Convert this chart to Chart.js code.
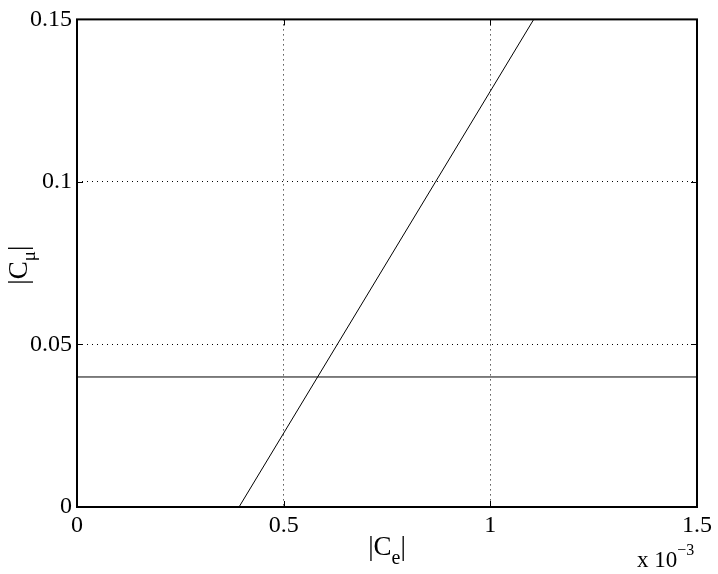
<!DOCTYPE html>
<html>
<head>
<meta charset="utf-8">
<script src="https://cdn.jsdelivr.net/npm/chart.js@4/dist/chart.umd.min.js"></script>
<style>
  html, body { margin: 0; padding: 0; background: #fff; }
</style>
</head>
<body>
<canvas id="chart" width="718" height="574"></canvas>
<script>
'use strict';

// x values are in units of 1e-3 (axis shows "x 10^-3")
const xTicks = [0, 0.5, 1, 1.5];
const yTicks = [0, 0.05, 0.1, 0.15];

// sloped line |Cmu| vs |Ce|
const slopeX = [0.392, 1.105];
const slopeY = [0, 0.15];

// horizontal limit line
const limitX = [0, 1.5];
const limitY = [0.04, 0.04];

const FONT = '"Liberation Serif", "Times New Roman", serif';

function toPoints(xs, ys) {
  return xs.map((x, i) => ({ x: x, y: ys[i] }));
}

// draw text made of pieces (for sub/superscripts), centred on x
function drawPieces(ctx, pieces, x, y, align) {
  let total = 0;
  pieces.forEach(p => {
    ctx.font = p.size + 'px ' + FONT;
    p.w = ctx.measureText(p.t).width;
    total += p.w;
  });
  let cx = align === 'left' ? x : x - total / 2;
  ctx.textAlign = 'left';
  ctx.textBaseline = 'alphabetic';
  pieces.forEach(p => {
    ctx.font = p.size + 'px ' + FONT;
    ctx.fillText(p.t, cx, y + (p.dy || 0));
    cx += p.w;
  });
}

const framePlugin = {
  id: 'frame',
  afterDraw(chart) {
    const ctx = chart.ctx;
    const a = chart.chartArea;
    const xs = chart.scales.x;
    const ys = chart.scales.y;
    const tick = 6;
    ctx.save();
    ctx.strokeStyle = '#000';
    ctx.fillStyle = '#000';

    // inward tick marks on all four sides
    ctx.lineWidth = 1;
    ctx.beginPath();
    xTicks.forEach(v => {
      const px = Math.round(xs.getPixelForValue(v)) + 0.5;
      ctx.moveTo(px, a.bottom); ctx.lineTo(px, a.bottom - tick);
      ctx.moveTo(px, a.top); ctx.lineTo(px, a.top + tick);
    });
    yTicks.forEach(v => {
      const py = Math.round(ys.getPixelForValue(v)) + 0.5;
      ctx.moveTo(a.left, py); ctx.lineTo(a.left + tick, py);
      ctx.moveTo(a.right, py); ctx.lineTo(a.right - tick, py);
    });
    ctx.stroke();

    // box
    ctx.lineWidth = 2;
    ctx.strokeRect(a.left, a.top, a.right - a.left, a.bottom - a.top);

    // x label |C_e|
    drawPieces(ctx, [
      { t: '|C', size: 27 },
      { t: 'e', size: 20, dy: 9 },
      { t: '|', size: 27 }
    ], (a.left + a.right) / 2, 555);

    // y label |C_mu| rotated
    ctx.save();
    ctx.translate(27, (a.top + a.bottom) / 2 + 2);
    ctx.rotate(-Math.PI / 2);
    drawPieces(ctx, [
      { t: '|C', size: 27 },
      { t: '\u03bc', size: 19, dy: 8 },
      { t: '|', size: 27 }
    ], 0, 0);
    ctx.restore();

    // exponent x 10^-3
    drawPieces(ctx, [
      { t: 'x 10', size: 23 },
      { t: '\u22123', size: 16, dy: -12 }
    ], 637, 567, 'left');

    ctx.restore();
  }
};

const gridColor = (ctx, edge) => {
  const v = ctx.tick && ctx.tick.value;
  return (v === edge[0] || v === edge[1]) ? 'rgba(0,0,0,0)' : '#000';
};

const config = {
  type: 'line',
  data: {
    datasets: [
      {
        data: toPoints(slopeX, slopeY),
        borderColor: '#000',
        borderWidth: 1,
        pointRadius: 0,
        fill: false
      },
      {
        data: toPoints(limitX, limitY),
        borderColor: '#000',
        borderWidth: 1,
        pointRadius: 0,
        fill: false
      }
    ]
  },
  options: {
    responsive: false,
    animation: false,
    layout: {
      padding: { top: 18, right: 21, left: 0, bottom: 0 }
    },
    plugins: {
      legend: { display: false },
      tooltip: { enabled: false }
    },
    scales: {
      x: {
        type: 'linear',
        min: 0,
        max: 1.5,
        afterBuildTicks: s => { s.ticks = xTicks.map(v => ({ value: v })); },
        afterFit: s => { s.height = 67; },
        ticks: {
          color: '#000',
          font: { family: FONT, size: 24 },
          padding: 4,
          maxRotation: 0,
          callback: v => String(v)
        },
        grid: {
          drawTicks: false,
          lineWidth: 1,
          color: c => gridColor(c, [0, 1.5])
        },
        border: { display: false, dash: [1, 4] }
      },
      y: {
        type: 'linear',
        min: 0,
        max: 0.15,
        afterBuildTicks: s => { s.ticks = yTicks.map(v => ({ value: v })); },
        afterFit: s => { s.width = 77; },
        ticks: {
          color: '#000',
          font: { family: FONT, size: 24 },
          padding: 5,
          callback: v => String(v)
        },
        grid: {
          drawTicks: false,
          lineWidth: 1,
          color: c => gridColor(c, [0, 0.15])
        },
        border: { display: false, dash: [1, 4] }
      }
    }
  },
  plugins: [framePlugin]
};

new Chart(document.getElementById('chart').getContext('2d'), config);
</script>
</body>
</html>
